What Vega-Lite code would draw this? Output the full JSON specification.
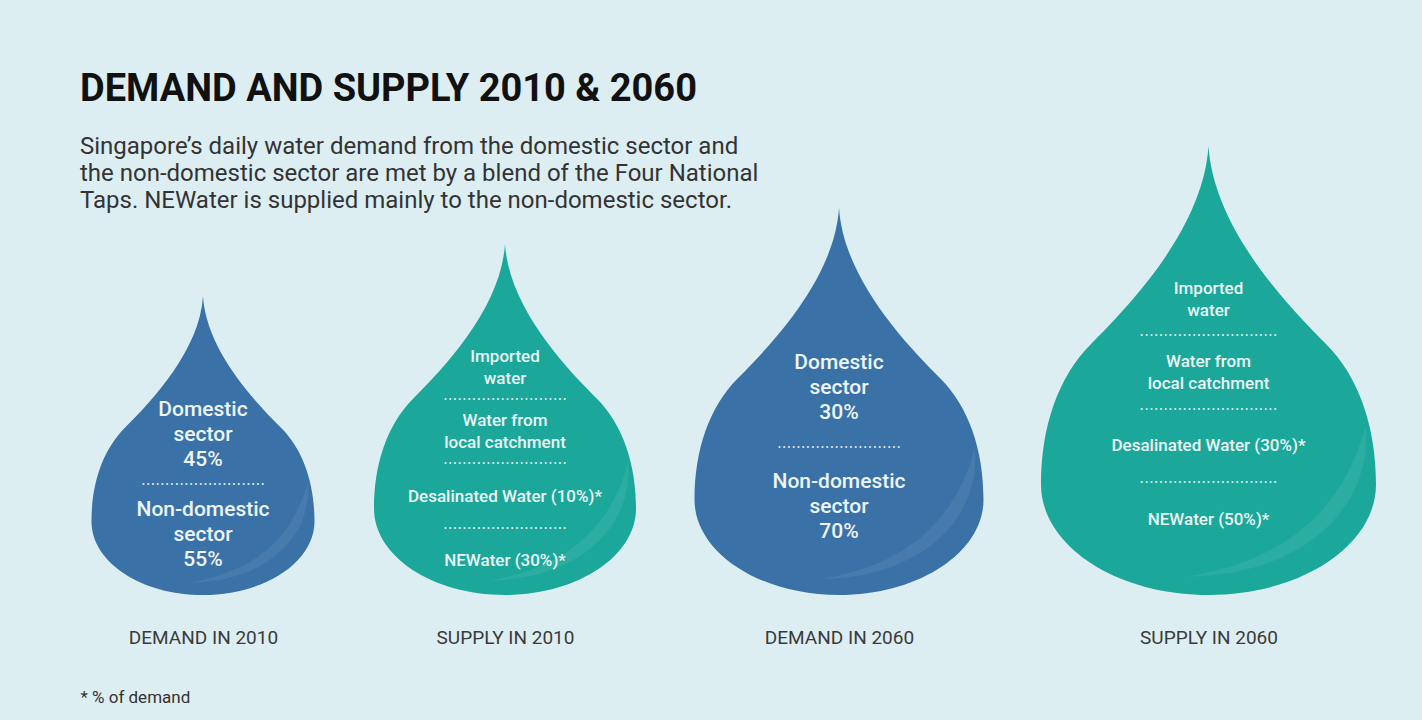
{
  "$schema": "https://vega.github.io/schema/vega-lite/v6.json",
  "background": "#ddeef3",
  "padding": {"left": 80, "top": 71, "right": 18.5, "bottom": 16},
  "bounds": "flush",
  "spacing": 0,
  "title": {
    "text": "DEMAND AND SUPPLY 2010 & 2060",
    "subtitle": [
      "Singapore’s daily water demand from the domestic sector and",
      "the non-domestic sector are met by a blend of the Four National",
      "Taps. NEWater is supplied mainly to the non-domestic sector."
    ],
    "anchor": "start",
    "frame": "bounds",
    "font": "Roboto",
    "fontSize": 38,
    "fontWeight": "bold",
    "color": "#111111",
    "subtitleFont": "Roboto",
    "subtitleFontSize": 24,
    "subtitleColor": "#333333",
    "subtitleLineHeight": 27,
    "subtitlePadding": 26,
    "offset": -67
  },
  "datasets": {
    "drops": [
      {"panel": "DEMAND IN 2010", "kind": "Demand", "year": 2010},
      {"panel": "SUPPLY IN 2010", "kind": "Supply", "year": 2010},
      {"panel": "DEMAND IN 2060", "kind": "Demand", "year": 2060},
      {"panel": "SUPPLY IN 2060", "kind": "Supply", "year": 2060}
    ],
    "labels": [
      {"panel": "DEMAND IN 2010", "row": "segment", "order": 1, "label": "Domestic\nsector\n45%"},
      {"panel": "DEMAND IN 2010", "row": "separator", "order": 1.5, "label": ""},
      {"panel": "DEMAND IN 2010", "row": "segment", "order": 2, "label": "Non-domestic\nsector\n55%"},
      {"panel": "SUPPLY IN 2010", "row": "segment", "order": 1, "label": "Imported\nwater"},
      {"panel": "SUPPLY IN 2010", "row": "separator", "order": 1.5, "label": ""},
      {"panel": "SUPPLY IN 2010", "row": "segment", "order": 2, "label": "Water from\nlocal catchment"},
      {"panel": "SUPPLY IN 2010", "row": "separator", "order": 2.5, "label": ""},
      {"panel": "SUPPLY IN 2010", "row": "segment", "order": 3, "label": "Desalinated Water (10%)*"},
      {"panel": "SUPPLY IN 2010", "row": "separator", "order": 3.5, "label": ""},
      {"panel": "SUPPLY IN 2010", "row": "segment", "order": 4, "label": "NEWater (30%)*"},
      {"panel": "DEMAND IN 2060", "row": "segment", "order": 1, "label": "Domestic\nsector\n30%"},
      {"panel": "DEMAND IN 2060", "row": "separator", "order": 1.5, "label": ""},
      {"panel": "DEMAND IN 2060", "row": "segment", "order": 2, "label": "Non-domestic\nsector\n70%"},
      {"panel": "SUPPLY IN 2060", "row": "segment", "order": 1, "label": "Imported\nwater"},
      {"panel": "SUPPLY IN 2060", "row": "separator", "order": 1.5, "label": ""},
      {"panel": "SUPPLY IN 2060", "row": "segment", "order": 2, "label": "Water from\nlocal catchment"},
      {"panel": "SUPPLY IN 2060", "row": "separator", "order": 2.5, "label": ""},
      {"panel": "SUPPLY IN 2060", "row": "segment", "order": 3, "label": "Desalinated Water (30%)*"},
      {"panel": "SUPPLY IN 2060", "row": "separator", "order": 3.5, "label": ""},
      {"panel": "SUPPLY IN 2060", "row": "segment", "order": 4, "label": "NEWater (50%)*"}
    ]
  },
  "hconcat": [
    {
      "width": 264.5,
      "height": 446,
      "layer": [
        {
          "data": {"name": "drops"},
          "transform": [{"filter": "datum.panel === 'DEMAND IN 2010'"}],
          "mark": {"type": "point", "shape": "M0,-2.68C0.03,-2.2,0.45,-1.75,0.7,-1.5C0.9,-1.3,1,-1.0,1,-0.66C1,-0.2955,0.5523,0,0,0C-0.5523,0,-1,-0.2955,-1,-0.66C-1,-1.0,-0.9,-1.3,-0.7,-1.5C-0.45,-1.75,-0.03,-2.2,0,-2.68Z", "size": 49729, "filled": true, "opacity": 1, "strokeWidth": 0},
          "encoding": {
            "x": {"field": "panel", "type": "nominal", "scale": {"type": "point", "align": 0.465},
              "axis": {"title": "* % of demand", "domain": false, "ticks": false, "labelAngle": 0, "labelFont": "Roboto", "labelFontSize": 19, "labelColor": "#3a3a3a", "labelPadding": 33, "titleAnchor": "start", "titleAlign": "left", "titleFont": "Roboto", "titleFontSize": 17, "titleFontWeight": "normal", "titleColor": "#333333", "titlePadding": 42}},
            "y": {"value": "height"},
            "color": {"field": "kind", "type": "nominal", "scale": {"domain": ["Demand", "Supply"], "range": ["#3a72a7", "#1ca79b"]}, "legend": null}
          }
        },
        {
          "data": {"name": "drops"},
          "transform": [{"filter": "datum.panel === 'DEMAND IN 2010'"}],
          "mark": {"type": "point", "shape": "M0.94,-1.01C0.98,-0.55,0.6,-0.12,-0.13,-0.11C0.45,-0.2,0.8,-0.5,0.94,-1.01Z", "size": 49729, "filled": true, "color": "#ffffff", "opacity": 0.07, "strokeWidth": 0},
          "encoding": {"x": {"field": "panel", "type": "nominal"}, "y": {"value": "height"}}
        },
        {
          "data": {"name": "labels"},
          "transform": [{"filter": "datum.panel === 'DEMAND IN 2010' && datum.row === 'segment'"}],
          "mark": {"type": "text", "font": "Roboto", "fontSize": 21, "fontWeight": 500, "color": "#eef5f9", "lineBreak": "\n", "lineHeight": 25, "align": "center", "baseline": "middle", "dy": -25},
          "encoding": {
            "x": {"field": "panel", "type": "nominal"},
            "y": {"field": "order", "type": "quantitative", "scale": {"domain": [-1.86, 2.6], "reverse": true, "nice": false, "zero": false}, "axis": null},
            "text": {"field": "label"}
          }
        },
        {
          "data": {"name": "labels"},
          "transform": [{"filter": "datum.panel === 'DEMAND IN 2010' && datum.row === 'separator'"}],
          "mark": {"type": "text", "text": "..........................", "font": "DejaVu Sans", "fontSize": 15, "color": "#dbe9f3", "align": "center", "baseline": "alphabetic"},
          "encoding": {
            "x": {"field": "panel", "type": "nominal"},
            "y": {"field": "order", "type": "quantitative"}
          }
        }
      ]
    },
    {
      "width": 320,
      "height": 446,
      "layer": [
        {
          "data": {"name": "drops"},
          "transform": [{"filter": "datum.panel === 'SUPPLY IN 2010'"}],
          "mark": {"type": "point", "shape": "M0,-2.68C0.03,-2.2,0.45,-1.75,0.7,-1.5C0.9,-1.3,1,-1.0,1,-0.66C1,-0.2955,0.5523,0,0,0C-0.5523,0,-1,-0.2955,-1,-0.66C-1,-1.0,-0.9,-1.3,-0.7,-1.5C-0.45,-1.75,-0.03,-2.2,0,-2.68Z", "size": 68644, "filled": true, "opacity": 1, "strokeWidth": 0},
          "encoding": {
            "x": {"field": "panel", "type": "nominal", "scale": {"type": "point"},
              "axis": {"title": null, "domain": false, "ticks": false, "labelAngle": 0, "labelFont": "Roboto", "labelFontSize": 19, "labelColor": "#3a3a3a", "labelPadding": 33}},
            "y": {"value": "height"},
            "color": {"field": "kind", "type": "nominal", "scale": {"domain": ["Demand", "Supply"], "range": ["#3a72a7", "#1ca79b"]}, "legend": null}
          }
        },
        {
          "data": {"name": "drops"},
          "transform": [{"filter": "datum.panel === 'SUPPLY IN 2010'"}],
          "mark": {"type": "point", "shape": "M0.94,-1.01C0.98,-0.55,0.6,-0.12,-0.13,-0.11C0.45,-0.2,0.8,-0.5,0.94,-1.01Z", "size": 68644, "filled": true, "color": "#ffffff", "opacity": 0.07, "strokeWidth": 0},
          "encoding": {"x": {"field": "panel", "type": "nominal"}, "y": {"value": "height"}}
        },
        {
          "data": {"name": "labels"},
          "transform": [{"filter": "datum.panel === 'SUPPLY IN 2010' && datum.row === 'segment' && indexof(datum.label, '\\n') >= 0"}],
          "mark": {"type": "text", "font": "Roboto", "fontSize": 17, "fontWeight": 500, "color": "#eaf7f5", "lineBreak": "\n", "lineHeight": 22, "align": "center", "baseline": "middle", "dy": -11},
          "encoding": {
            "x": {"field": "panel", "type": "nominal"},
            "y": {"field": "order", "type": "quantitative", "scale": {"domain": [-2.394, 4.526], "reverse": true, "nice": false, "zero": false}, "axis": null},
            "text": {"field": "label"}
          }
        },
        {
          "data": {"name": "labels"},
          "transform": [{"filter": "datum.panel === 'SUPPLY IN 2010' && datum.row === 'segment' && indexof(datum.label, '\\n') < 0"}],
          "mark": {"type": "text", "font": "Roboto", "fontSize": 17, "fontWeight": 500, "color": "#eaf7f5", "align": "center", "baseline": "middle"},
          "encoding": {
            "x": {"field": "panel", "type": "nominal"},
            "y": {"field": "order", "type": "quantitative"},
            "text": {"field": "label"}
          }
        },
        {
          "data": {"name": "labels"},
          "transform": [{"filter": "datum.panel === 'SUPPLY IN 2010' && datum.row === 'separator'"}],
          "mark": {"type": "text", "text": "..........................", "font": "DejaVu Sans", "fontSize": 15, "color": "#d6f0ec", "align": "center", "baseline": "alphabetic"},
          "encoding": {
            "x": {"field": "panel", "type": "nominal"},
            "y": {"field": "order", "type": "quantitative"}
          }
        }
      ]
    },
    {
      "width": 348,
      "height": 446,
      "layer": [
        {
          "data": {"name": "drops"},
          "transform": [{"filter": "datum.panel === 'DEMAND IN 2060'"}],
          "mark": {"type": "point", "shape": "M0,-2.68C0.03,-2.2,0.45,-1.75,0.7,-1.5C0.9,-1.3,1,-1.0,1,-0.66C1,-0.2955,0.5523,0,0,0C-0.5523,0,-1,-0.2955,-1,-0.66C-1,-1.0,-0.9,-1.3,-0.7,-1.5C-0.45,-1.75,-0.03,-2.2,0,-2.68Z", "size": 83521, "filled": true, "opacity": 1, "strokeWidth": 0},
          "encoding": {
            "x": {"field": "panel", "type": "nominal", "scale": {"type": "point"},
              "axis": {"title": null, "domain": false, "ticks": false, "labelAngle": 0, "labelFont": "Roboto", "labelFontSize": 19, "labelColor": "#3a3a3a", "labelPadding": 33}},
            "y": {"value": "height"},
            "color": {"field": "kind", "type": "nominal", "scale": {"domain": ["Demand", "Supply"], "range": ["#3a72a7", "#1ca79b"]}, "legend": null}
          }
        },
        {
          "data": {"name": "drops"},
          "transform": [{"filter": "datum.panel === 'DEMAND IN 2060'"}],
          "mark": {"type": "point", "shape": "M0.94,-1.01C0.98,-0.55,0.6,-0.12,-0.13,-0.11C0.45,-0.2,0.8,-0.5,0.94,-1.01Z", "size": 83521, "filled": true, "color": "#ffffff", "opacity": 0.07, "strokeWidth": 0},
          "encoding": {"x": {"field": "panel", "type": "nominal"}, "y": {"value": "height"}}
        },
        {
          "data": {"name": "labels"},
          "transform": [{"filter": "datum.panel === 'DEMAND IN 2060' && datum.row === 'segment'"}],
          "mark": {"type": "text", "font": "Roboto", "fontSize": 21, "fontWeight": 500, "color": "#eef5f9", "lineBreak": "\n", "lineHeight": 25, "align": "center", "baseline": "middle", "dy": -25},
          "encoding": {
            "x": {"field": "panel", "type": "nominal"},
            "y": {"field": "order", "type": "quantitative", "scale": {"domain": [-1.008, 2.739], "reverse": true, "nice": false, "zero": false}, "axis": null},
            "text": {"field": "label"}
          }
        },
        {
          "data": {"name": "labels"},
          "transform": [{"filter": "datum.panel === 'DEMAND IN 2060' && datum.row === 'separator'"}],
          "mark": {"type": "text", "text": "..........................", "font": "DejaVu Sans", "fontSize": 15, "color": "#dbe9f3", "align": "center", "baseline": "alphabetic"},
          "encoding": {
            "x": {"field": "panel", "type": "nominal"},
            "y": {"field": "order", "type": "quantitative"}
          }
        }
      ]
    },
    {
      "width": 391,
      "height": 446,
      "layer": [
        {
          "data": {"name": "drops"},
          "transform": [{"filter": "datum.panel === 'SUPPLY IN 2060'"}],
          "mark": {"type": "point", "shape": "M0,-2.68C0.03,-2.2,0.45,-1.75,0.7,-1.5C0.9,-1.3,1,-1.0,1,-0.66C1,-0.2955,0.5523,0,0,0C-0.5523,0,-1,-0.2955,-1,-0.66C-1,-1.0,-0.9,-1.3,-0.7,-1.5C-0.45,-1.75,-0.03,-2.2,0,-2.68Z", "size": 112225, "filled": true, "opacity": 1, "strokeWidth": 0},
          "encoding": {
            "x": {"field": "panel", "type": "nominal", "scale": {"type": "point"},
              "axis": {"title": null, "domain": false, "ticks": false, "labelAngle": 0, "labelFont": "Roboto", "labelFontSize": 19, "labelColor": "#3a3a3a", "labelPadding": 33}},
            "y": {"value": "height"},
            "color": {"field": "kind", "type": "nominal", "scale": {"domain": ["Demand", "Supply"], "range": ["#3a72a7", "#1ca79b"]}, "legend": null}
          }
        },
        {
          "data": {"name": "drops"},
          "transform": [{"filter": "datum.panel === 'SUPPLY IN 2060'"}],
          "mark": {"type": "point", "shape": "M0.94,-1.01C0.98,-0.55,0.6,-0.12,-0.13,-0.11C0.45,-0.2,0.8,-0.5,0.94,-1.01Z", "size": 112225, "filled": true, "color": "#ffffff", "opacity": 0.07, "strokeWidth": 0},
          "encoding": {"x": {"field": "panel", "type": "nominal"}, "y": {"value": "height"}}
        },
        {
          "data": {"name": "labels"},
          "transform": [{"filter": "datum.panel === 'SUPPLY IN 2060' && datum.row === 'segment' && indexof(datum.label, '\\n') >= 0"}],
          "mark": {"type": "text", "font": "Roboto", "fontSize": 17, "fontWeight": 500, "color": "#eaf7f5", "lineBreak": "\n", "lineHeight": 22, "align": "center", "baseline": "middle", "dy": -11},
          "encoding": {
            "x": {"field": "panel", "type": "nominal"},
            "y": {"field": "order", "type": "quantitative", "scale": {"domain": [-1.052, 5.024], "reverse": true, "nice": false, "zero": false}, "axis": null},
            "text": {"field": "label"}
          }
        },
        {
          "data": {"name": "labels"},
          "transform": [{"filter": "datum.panel === 'SUPPLY IN 2060' && datum.row === 'segment' && indexof(datum.label, '\\n') < 0"}],
          "mark": {"type": "text", "font": "Roboto", "fontSize": 17, "fontWeight": 500, "color": "#eaf7f5", "align": "center", "baseline": "middle"},
          "encoding": {
            "x": {"field": "panel", "type": "nominal"},
            "y": {"field": "order", "type": "quantitative"},
            "text": {"field": "label"}
          }
        },
        {
          "data": {"name": "labels"},
          "transform": [{"filter": "datum.panel === 'SUPPLY IN 2060' && datum.row === 'separator'"}],
          "mark": {"type": "text", "text": ".............................", "font": "DejaVu Sans", "fontSize": 15, "color": "#d6f0ec", "align": "center", "baseline": "alphabetic"},
          "encoding": {
            "x": {"field": "panel", "type": "nominal"},
            "y": {"field": "order", "type": "quantitative"}
          }
        }
      ]
    }
  ],
  "config": {
    "view": {"stroke": null},
    "concat": {"spacing": 0}
  }
}
